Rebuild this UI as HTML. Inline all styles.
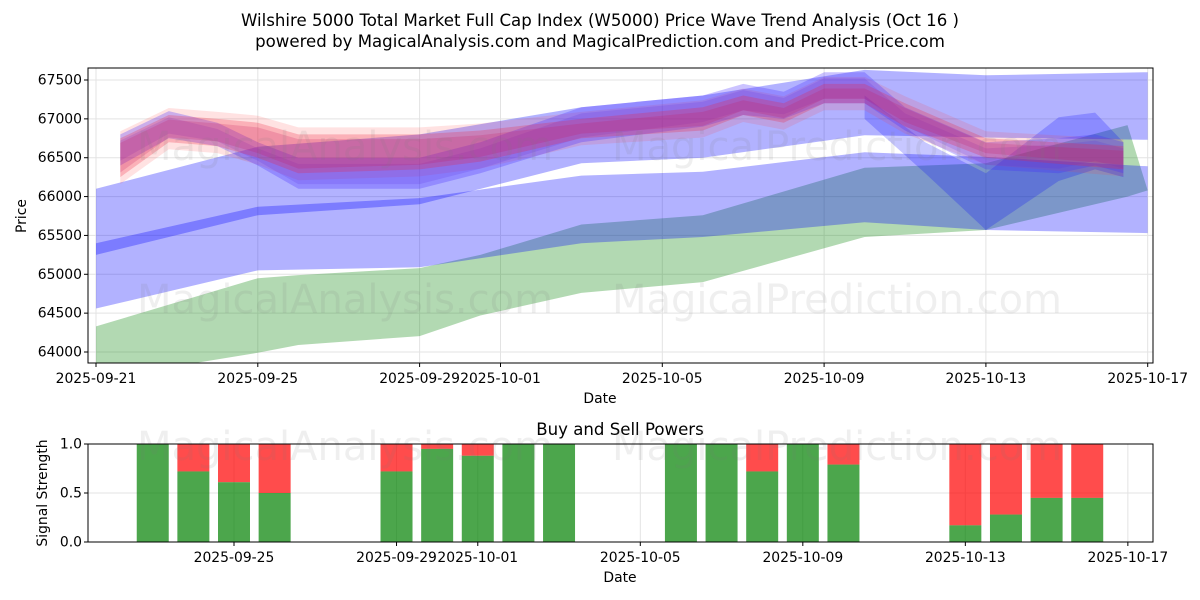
<!DOCTYPE html>
<html><head><meta charset="utf-8">
<style>
html,body{margin:0;padding:0;background:#fff;}
svg{display:block;font-family:"DejaVu Sans","Liberation Sans",sans-serif;}
</style></head>
<body>
<svg id="chart" width="1200" height="600" viewBox="0 0 1200 600">
  <text x="600" y="26" text-anchor="middle" font-size="16.6">Wilshire 5000 Total Market Full Cap Index (W5000) Price Wave Trend Analysis (Oct 16 )</text>
  <text x="600" y="47" text-anchor="middle" font-size="16.6">powered by MagicalAnalysis.com and MagicalPrediction.com and Predict-Price.com</text>
  <defs>
    <clipPath id="clipTop"><rect x="88" y="68" width="1065" height="295"/></clipPath>
    <clipPath id="clipBot"><rect x="88" y="444" width="1065" height="98"/></clipPath>
  </defs>
  <g id="topGrid"></g>
  <g id="topBands" clip-path="url(#clipTop)"></g>
  <g id="topWm">
    <text x="345" y="160" text-anchor="middle" font-size="40" fill="rgba(120,120,120,0.12)">MagicalAnalysis.com</text>
    <text x="837" y="160" text-anchor="middle" font-size="40" fill="rgba(120,120,120,0.12)">MagicalPrediction.com</text>
    <text x="345" y="313" text-anchor="middle" font-size="40" fill="rgba(120,120,120,0.12)">MagicalAnalysis.com</text>
    <text x="837" y="313" text-anchor="middle" font-size="40" fill="rgba(120,120,120,0.12)">MagicalPrediction.com</text>
  </g>
  <rect x="88" y="68" width="1065" height="295" fill="none" stroke="#000" stroke-width="1"/>
  <g id="topAxes"></g>
  <text x="600" y="403" text-anchor="middle" font-size="13.9">Date</text>
  <text x="26" y="216" text-anchor="middle" font-size="13.9" transform="rotate(-90 26 216)">Price</text>

  <text x="620" y="435" text-anchor="middle" font-size="16.6">Buy and Sell Powers</text>
  <g id="botGrid"></g>
  <g id="botBars" clip-path="url(#clipBot)"></g>
  <g>
    <text x="345" y="460" text-anchor="middle" font-size="40" fill="rgba(120,120,120,0.12)">MagicalAnalysis.com</text>
    <text x="837" y="460" text-anchor="middle" font-size="40" fill="rgba(120,120,120,0.12)">MagicalPrediction.com</text>
  </g>
  <rect x="88" y="444" width="1065" height="98" fill="none" stroke="#000" stroke-width="1"/>
  <g id="botAxes"></g>
  <text x="620" y="582" text-anchor="middle" font-size="13.9">Date</text>
  <text x="47" y="493" text-anchor="middle" font-size="13.9" transform="rotate(-90 47 493)">Signal Strength</text>
</svg>
<script>
// ---- top chart data (x in days since 2025-09-21) ----
const topXTicks = [0, 4, 8, 10, 14, 18, 22, 26];
const topXTickLabels = ["2025-09-21","2025-09-25","2025-09-29","2025-10-01","2025-10-05","2025-10-09","2025-10-13","2025-10-17"];
const topYTicks = [64000, 64500, 65000, 65500, 66000, 66500, 67000, 67500];

const greenDays = [0, 4, 5, 8, 9.5, 12, 15, 19, 22, 25.5, 26];
const greenHi = [64330, 64950, 64990, 65080, 65250, 65640, 65760, 66370, 66430, 66920, 66080];
const greenLo = [63650, 63990, 64090, 64205, 64470, 64760, 64900, 65480, 65570, 66000, 66080];

const bandADays = [0, 4, 8, 12, 15, 19, 22, 26];
const bandAHi = [66100, 66640, 66800, 67150, 67300, 67630, 67560, 67600];
const bandALo = [65250, 65760, 65900, 66430, 66500, 66790, 66760, 66730];

const bandBDays = [0, 4, 8, 12, 15, 19, 22, 26];
const bandBHi = [65400, 65870, 65980, 66270, 66320, 66570, 66510, 66390];
const bandBLo = [64560, 65050, 65090, 65400, 65480, 65670, 65570, 65530];

const waveDays = [0.6, 1.8, 3, 4, 5, 8, 9.5, 12, 15, 16, 17, 18, 19, 20, 22, 23.8, 24.7, 25.4];
const waveBlueHi = [66800, 67100, 66950, 66700, 66500, 66500, 66700, 67150, 67300, 67450, 67350, 67600, 67600, 67150, 66700, 66750, 66800, 66700];
const waveBlueLo = [66400, 66750, 66650, 66400, 66100, 66100, 66300, 66700, 66900, 67050, 67000, 67200, 67200, 66850, 66350, 66300, 66400, 66300];

const vDays = [19, 20.5, 22, 23.8, 24.7, 25.4];
const vHi = [67300, 66700, 66300, 67020, 67080, 66700];
const vLo = [67000, 66300, 65570, 66200, 66350, 66250];

const redDays = [0.6, 1.8, 3, 4, 5, 8, 9.5, 12, 15, 16, 17, 18, 19, 20, 22, 25.4];
const redHi = [66750, 67050, 67000, 66950, 66800, 66800, 66850, 67000, 67150, 67300, 67200, 67450, 67450, 67200, 66750, 66650];
const redLo = [66250, 66700, 66650, 66500, 66300, 66350, 66450, 66750, 66850, 67050, 66950, 67200, 67200, 66900, 66500, 66350];

// ---- bottom chart data (days since 2025-09-21) ----
const barDays = [2, 3, 4, 5, 8, 9, 10, 11, 12, 15, 16, 17, 18, 19, 22, 23, 24, 25];
const buyPower = [1.0, 0.72, 0.61, 0.5, 0.72, 0.95, 0.88, 1.0, 1.0, 1.0, 1.0, 0.72, 1.0, 0.79, 0.17, 0.28, 0.45, 0.45];
const botXTicks = [4, 8, 10, 14, 18, 22, 26];
const botXTickLabels = ["2025-09-25","2025-09-29","2025-10-01","2025-10-05","2025-10-09","2025-10-13","2025-10-17"];
const botYTicks = [0, 0.5, 1.0];
const botYTickLabels = ["0.0","0.5","1.0"];

const NS = "http://www.w3.org/2000/svg";
function xT(d){ return 96 + d * 40.45; }
function yT(v){ return 80 + (67500 - v) * (272 / 3500); }
function xB(d){ return 234 + (d - 4) * 40.63; }
function yB(v){ return 542 - v * 98; }
function mk(tag, attrs, parent){
  const e = document.createElementNS(NS, tag);
  for (const k in attrs) e.setAttribute(k, attrs[k]);
  parent.appendChild(e);
  return e;
}
function bandPath(days, hi, lo){
  let p = "";
  days.forEach((d,i)=>{ p += (i? "L":"M") + xT(d).toFixed(1) + "," + yT(hi[i]).toFixed(1); });
  for (let i = days.length - 1; i >= 0; i--) p += "L" + xT(days[i]).toFixed(1) + "," + yT(lo[i]).toFixed(1);
  return p + "Z";
}
function shift(arr, dv){ return arr.map(v => v + dv); }

const topGrid = document.getElementById('topGrid');
const topAxes = document.getElementById('topAxes');
topXTicks.forEach((t,i)=>{
  const l = mk('line',{x1:xT(t),x2:xT(t),y1:68,y2:363,stroke:'#e3e3e3','stroke-width':1},topGrid);
  
  
  mk('line',{x1:xT(t),x2:xT(t),y1:363,y2:367,stroke:'#000'},topAxes);
  const tx = mk('text',{x:xT(t),y:383,'text-anchor':'middle','font-size':13.9},topAxes);
  tx.textContent = topXTickLabels[i];
  
  
});
topYTicks.forEach(t=>{
  const l = mk('line',{x1:88,x2:1153,y1:yT(t),y2:yT(t),stroke:'#e3e3e3','stroke-width':1},topGrid);
  
  
  mk('line',{x1:84,x2:88,y1:yT(t),y2:yT(t),stroke:'#000'},topAxes);
  const tx = mk('text',{x:82,y:yT(t)+4.5,'text-anchor':'end','font-size':13.9},topAxes);
  tx.textContent = t;
  
  
});

const tb = document.getElementById('topBands');
function addBand(days, hi, lo, fill, name){
  const p = mk('path',{d:bandPath(days,hi,lo),fill:fill},tb);
  
  
}
addBand(greenDays, greenHi, greenLo, 'rgba(0,128,0,0.3)', 'green-band');
addBand(bandBDays, bandBHi, bandBLo, 'rgba(0,0,255,0.3)', 'blue-band-lower');
addBand(bandADays, bandAHi, bandALo, 'rgba(0,0,255,0.3)', 'blue-band-upper');
addBand(vDays, vHi, vLo, 'rgba(0,0,255,0.22)', 'blue-v-band');
addBand(redDays, shift(redHi,90), shift(redLo,-90), 'rgba(255,60,60,0.15)', 'red-wave-outer');
addBand(waveDays, waveBlueHi, waveBlueLo, 'rgba(70,40,255,0.28)', 'blue-wave-band');
addBand(waveDays, shift(waveBlueHi,-80), shift(waveBlueLo,60), 'rgba(90,40,230,0.18)', 'blue-wave-core');
addBand(redDays, redHi, redLo, 'rgba(240,30,60,0.25)', 'red-wave-band');
addBand(redDays, shift(redHi,-60), shift(redLo,60), 'rgba(200,20,90,0.2)', 'red-wave-core');

const botGrid = document.getElementById('botGrid');
const botAxes = document.getElementById('botAxes');
botXTicks.forEach((t,i)=>{
  const l = mk('line',{x1:xB(t),x2:xB(t),y1:444,y2:542,stroke:'#e3e3e3'},botGrid);
  
  
  mk('line',{x1:xB(t),x2:xB(t),y1:542,y2:546,stroke:'#000'},botAxes);
  const tx = mk('text',{x:xB(t),y:562,'text-anchor':'middle','font-size':13.9},botAxes);
  tx.textContent = botXTickLabels[i];
  
  
});
botYTicks.forEach((t,i)=>{
  const l = mk('line',{x1:88,x2:1153,y1:yB(t),y2:yB(t),stroke:'#e3e3e3'},botGrid);
  
  
  mk('line',{x1:84,x2:88,y1:yB(t),y2:yB(t),stroke:'#000'},botAxes);
  const tx = mk('text',{x:82,y:yB(t)+4.5,'text-anchor':'end','font-size':13.9},botAxes);
  tx.textContent = botYTickLabels[i];
  
  
});
const bb = document.getElementById('botBars');
barDays.forEach((d,i)=>{
  const cx = xB(d), w = 32, g = buyPower[i];
  const r = mk('rect',{x:cx-w/2,y:yB(1),width:w,height:yB(g)-yB(1),fill:'rgba(255,0,0,0.7)'},bb);
  
  
  const gr = mk('rect',{x:cx-w/2,y:yB(g),width:w,height:yB(0)-yB(g),fill:'rgba(0,128,0,0.7)'},bb);
  
  
});
</script>
</body></html>
